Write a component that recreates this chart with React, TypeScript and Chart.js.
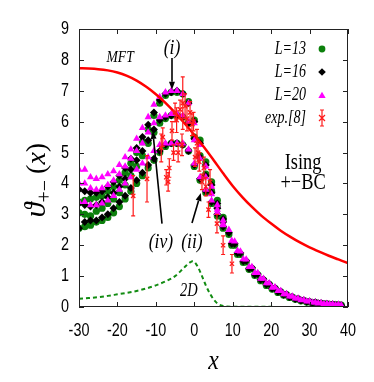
import React, { useEffect, useRef } from "react";
import { Chart, registerables } from "chart.js";

Chart.register(...registerables);

// ---------- data ----------
const X_TICKS = [-30, -20, -10, 0, 10, 20, 30, 40];
const Y_TICKS = [0, 1, 2, 3, 4, 5, 6, 7, 8, 9];

const X_BRANCH = [-30, -28.5, -27, -25.5, -24, -22.5, -21, -19.5, -18, -16.5, -15, -13.5, -12, -10.5, -9, -7.5, -6, -4.5, -3, -1.5, 0, 1.5, 3, 4.5, 6, 7.5];

const L16_A = [3.8, 3.75, 3.7, 3.7, 3.75, 3.9, 4.05, 4.25, 4.5, 4.8, 5.15, 5.5, 5.9, 6.3, 6.7, 6.9, 6.95, 7.0, 6.9, 6.6, 6.0, 5.3, 4.6, 3.95, 3.35, 2.85];
const L16_B = [3.35, 3.3, 3.25, 3.3, 3.4, 3.55, 3.7, 3.9, 4.15, 4.45, 4.75, 5.05, 5.4, 5.75, 6.05, 6.15, 6.2, 6.2, 6.15, 5.95, 5.45, 4.85, 4.25, 3.7, 3.2, 2.75];
const L16_C = [2.55, 2.75, 2.8, 2.8, 2.9, 3.0, 3.2, 3.4, 3.6, 3.85, 4.1, 4.35, 4.6, 4.8, 5.05, 5.25, 5.3, 5.3, 5.25, 5.05, 4.6, 4.15, 3.75, 3.4, 3.0, 2.6];

const L13_A = [3.4, 3.45, 3.5, 3.55, 3.6, 3.75, 3.9, 4.1, 4.35, 4.65, 5.0, 5.35, 5.75, 6.2, 6.6, 6.85, 6.95, 6.95, 6.9, 6.65, 6.05, 5.4, 4.7, 4.05, 3.45, 2.9];
const L13_B = [3.05, 3.0, 2.95, 3.1, 3.2, 3.35, 3.5, 3.7, 3.95, 4.25, 4.55, 4.9, 5.3, 5.65, 5.95, 6.1, 6.2, 6.2, 6.15, 5.95, 5.5, 4.9, 4.3, 3.75, 3.25, 2.8];
const L13_C = [2.55, 2.6, 2.65, 2.75, 2.8, 2.9, 3.05, 3.25, 3.5, 3.75, 4.0, 4.25, 4.5, 4.75, 5.0, 5.2, 5.3, 5.3, 5.25, 5.05, 4.55, 4.1, 3.7, 3.35, 2.95, 2.55];

const L20_A = [4.45, 4.45, 4.2, 4.15, 4.2, 4.3, 4.4, 4.6, 4.85, 5.1, 5.45, 5.8, 6.15, 6.55, 6.8, 6.95, 7.0, 7.0, 6.9, 6.6, 5.95, 5.25, 4.55, 3.9, 3.3, 2.8];
const L20_B = [4.0, 4.0, 3.85, 3.8, 3.85, 3.95, 4.1, 4.3, 4.55, 4.8, 5.05, 5.3, 5.65, 5.95, 6.15, 6.2, 6.25, 6.25, 6.2, 6.0, 5.4, 4.8, 4.2, 3.65, 3.15, 2.7];
const L20_C = [3.4, 3.4, 3.3, 3.3, 3.35, 3.45, 3.6, 3.8, 4.0, 4.2, 4.45, 4.65, 4.85, 5.05, 5.25, 5.3, 5.3, 5.3, 5.3, 5.1, 4.65, 4.2, 3.8, 3.45, 3.05, 2.65];

const X_TAIL_A = [9, 10.5, 12, 13.5, 15, 16.5, 18, 19.5, 21, 22.5, 24, 25.5, 27, 28.5, 30, 31.5, 33, 34.5, 36, 37.5];
const X_TAIL_B = [9.75, 11.25, 12.75, 14.25, 15.75, 17.25, 18.75, 20.25, 21.75, 23.25, 24.75, 26.25, 27.75, 29.25, 30.75, 32.25, 33.75, 35.25, 36.75, 38.25];

const L16_TAIL_A = [2.4, 2.05, 1.75, 1.5, 1.27, 1.07, 0.9, 0.75, 0.62, 0.5, 0.41, 0.33, 0.27, 0.22, 0.18, 0.15, 0.12, 0.1, 0.09, 0.07];
const L16_TAIL_B = [2.05, 1.75, 1.48, 1.25, 1.05, 0.88, 0.73, 0.6, 0.49, 0.4, 0.32, 0.26, 0.21, 0.17, 0.14, 0.12, 0.1, 0.08, 0.07, 0.06];
const L20_TAIL_A = [2.5, 2.12, 1.8, 1.54, 1.3, 1.1, 0.92, 0.77, 0.64, 0.52, 0.42, 0.34, 0.28, 0.23, 0.19, 0.15, 0.13, 0.11, 0.09, 0.08];
const L20_TAIL_B = [2.15, 1.82, 1.55, 1.3, 1.1, 0.92, 0.77, 0.63, 0.52, 0.42, 0.34, 0.28, 0.22, 0.18, 0.15, 0.12, 0.1, 0.09, 0.07, 0.06];
const L13_TAIL_A = [2.35, 2.0, 1.7, 1.46, 1.24, 1.04, 0.87, 0.73, 0.6, 0.49, 0.4, 0.32, 0.26, 0.21, 0.17, 0.14, 0.12, 0.1, 0.08, 0.07];
const L13_TAIL_B = [2.0, 1.7, 1.44, 1.22, 1.02, 0.85, 0.7, 0.58, 0.47, 0.38, 0.31, 0.25, 0.2, 0.16, 0.13, 0.11, 0.09, 0.08, 0.07, 0.06];

const EXP_X = [-15.9, -12.3, -8.6, -8.2, -7.3, -6.8, -6.5, -5.8, -5.4, -5.0, -4.6, -4.2, -3.7, -3.0, -3.2, -2.4, -1.9, -1.1, -0.6, -0.2, 0.2, 0.7, 1.0, 1.3, 2.0, 2.5, 3.0, 3.7, 4.1, 5.9, 7.5, 9.8];
const EXP_Y = [3.6, 4.15, 5.15, 5.5, 4.2, 4.05, 4.5, 5.7, 5.0, 6.3, 6.05, 5.0, 6.4, 6.6, 5.25, 6.5, 6.1, 6.3, 5.9, 6.0, 4.85, 5.3, 5.0, 4.7, 4.05, 4.5, 3.9, 3.15, 4.05, 2.7, 2.0, 1.4];
const EXP_ERR = [0.65, 0.75, 0.45, 0.3, 0.25, 0.3, 0.3, 0.3, 0.25, 0.3, 0.4, 0.3, 0.3, 0.85, 0.35, 0.4, 0.4, 0.35, 0.35, 0.3, 0.3, 0.45, 0.3, 0.3, 0.25, 0.35, 0.3, 0.25, 0.4, 0.3, 0.3, 0.3];

const MFT_X = [-30, -27.5, -25, -22.5, -20, -17.5, -15, -12.5, -10, -7.5, -5, -2.5, 0, 2.5, 5, 7.5, 10, 12.5, 15, 17.5, 20, 22.5, 25, 27.5, 30, 32.5, 35, 37.5, 40];
const MFT_Y = [7.73, 7.72, 7.7, 7.66, 7.59, 7.48, 7.33, 7.13, 6.89, 6.61, 6.29, 5.94, 5.57, 5.18, 4.76, 4.33, 3.92, 3.56, 3.24, 2.95, 2.7, 2.47, 2.27, 2.09, 1.93, 1.79, 1.66, 1.54, 1.42];

const D2_X = [-30, -27.5, -25, -22.5, -20, -17.5, -15, -12.5, -10, -7.5, -5, -3.5, -2, -1, -0.5, 0, 1, 2, 3, 4, 5, 6, 7, 8, 10, 15, 21];
const D2_Y = [0.27, 0.29, 0.32, 0.36, 0.41, 0.46, 0.52, 0.6, 0.7, 0.83, 1.0, 1.17, 1.35, 1.45, 1.48, 1.46, 1.28, 1.0, 0.7, 0.45, 0.25, 0.12, 0.05, 0.02, 0.01, 0.005, 0.005];

const SERIES_LABELS = ["L=13", "L=16", "L=20", "exp.[8]"];

// ---------- styling / layout (not data) ----------
const SX = 0.8;
const SERIF = "'Liberation Serif', 'Times New Roman', 'DejaVu Serif', serif";
const SANS = "'Liberation Sans', Arial, sans-serif";
const GREEN = "#0c800c";
const MAGENTA = "#ff00ff";
const RED = "#ff1a1a";

const ANNOTATIONS = [
  { text: "MFT", x: -19.3, y: 8.09, font: `italic 17px ${SERIF}` },
  { text: "(i)", x: -5.8, y: 8.38, font: `italic 22px ${SERIF}` },
  { text: "(iv)", x: -8.7, y: 2.1, font: `italic 22px ${SERIF}` },
  { text: "(ii)", x: -0.6, y: 2.1, font: `italic 22px ${SERIF}` },
  { text: "2D", x: -1.4, y: 0.52, font: `italic 18px ${SERIF}` },
  { text: "Ising", x: 28.3, y: 4.66, font: `23px ${SERIF}` },
  { text: "+\u2212BC", x: 28.3, y: 4.01, font: `23px ${SERIF}` },
];

const ARROWS = [
  { from: [-5.8, 8.06], to: [-5.8, 7.03] },
  { from: [-8.4, 2.7], to: [-10.8, 5.7] },
  { from: [-0.6, 2.72], to: [1.7, 3.69] },
];

function zip(xs: number[], ys: number[]) {
  return xs.map((x, i) => ({ x, y: ys[i] }));
}

function drawText(
  ctx: CanvasRenderingContext2D,
  text: string,
  x: number,
  y: number,
  font: string,
  align: "left" | "center" | "right",
  sx = SX,
  baseline: CanvasTextBaseline = "middle"
) {
  ctx.save();
  ctx.font = font;
  ctx.textBaseline = baseline;
  ctx.textAlign = "left";
  const w = ctx.measureText(text).width * sx;
  const x0 = align === "left" ? x : align === "center" ? x - w / 2 : x - w;
  ctx.translate(x0, y);
  ctx.scale(sx, 1);
  ctx.fillStyle = "#000";
  ctx.fillText(text, 0, 0);
  ctx.restore();
}

function marker(ctx: CanvasRenderingContext2D, kind: string, x: number, y: number, r: number, color: string) {
  ctx.save();
  ctx.fillStyle = color;
  ctx.beginPath();
  if (kind === "circle") {
    ctx.arc(x, y, r, 0, Math.PI * 2);
  } else if (kind === "rectRot") {
    ctx.moveTo(x, y - r);
    ctx.lineTo(x + r, y);
    ctx.lineTo(x, y + r);
    ctx.lineTo(x - r, y);
    ctx.closePath();
  } else if (kind === "triangle") {
    ctx.moveTo(x, y - r);
    ctx.lineTo(x + r * 0.87, y + r * 0.5);
    ctx.lineTo(x - r * 0.87, y + r * 0.5);
    ctx.closePath();
  }
  ctx.fill();
  ctx.restore();
}

const framePlugin = {
  id: "framePlugin",
  afterDraw(chart: any) {
    const ctx: CanvasRenderingContext2D = chart.ctx;
    const { left, right, top, bottom } = chart.chartArea;
    const xs = chart.scales.x;
    const ys = chart.scales.y;
    ctx.save();

    // error bars for experimental data
    ctx.strokeStyle = RED;
    ctx.lineWidth = 1.2;
    EXP_X.forEach((xv, i) => {
      const px = xs.getPixelForValue(xv);
      const p1 = ys.getPixelForValue(EXP_Y[i] + EXP_ERR[i]);
      const p2 = ys.getPixelForValue(EXP_Y[i] - EXP_ERR[i]);
      ctx.beginPath();
      ctx.moveTo(px, p1);
      ctx.lineTo(px, p2);
      ctx.moveTo(px - 2, p1);
      ctx.lineTo(px + 2, p1);
      ctx.moveTo(px - 2, p2);
      ctx.lineTo(px + 2, p2);
      ctx.stroke();
    });

    // frame + inward ticks
    ctx.strokeStyle = "#222";
    ctx.lineWidth = 1;
    ctx.strokeRect(left + 0.5, top + 0.5, right - left - 1, bottom - top - 1);
    ctx.beginPath();
    X_TICKS.forEach((v) => {
      const px = Math.round(xs.getPixelForValue(v)) + 0.5;
      ctx.moveTo(px, bottom);
      ctx.lineTo(px, bottom - 5);
      ctx.moveTo(px, top);
      ctx.lineTo(px, top + 5);
    });
    Y_TICKS.forEach((v) => {
      const py = Math.round(ys.getPixelForValue(v)) + 0.5;
      ctx.moveTo(left, py);
      ctx.lineTo(left + 5, py);
      ctx.moveTo(right, py);
      ctx.lineTo(right - 5, py);
    });
    ctx.stroke();

    // tick labels
    X_TICKS.forEach((v) => {
      drawText(ctx, String(v), xs.getPixelForValue(v), bottom + 24, `18px ${SANS}`, "center", 0.8);
    });
    Y_TICKS.forEach((v) => {
      drawText(ctx, String(v), left - 10, ys.getPixelForValue(v), `18px ${SANS}`, "right", 0.8);
    });

    // axis titles
    drawText(ctx, "x", (left + right) / 2, bottom + 55, `italic 28px ${SERIF}`, "center", 0.85);
    ctx.save();
    ctx.translate(45, (top + bottom) / 2 + 12);
    ctx.rotate(-Math.PI / 2);
    ctx.fillStyle = "#000";
    ctx.textBaseline = "alphabetic";
    const f1 = `italic 30px ${SERIF}`;
    const f2 = `20px ${SERIF}`;
    const f3 = `28px ${SERIF}`;
    const f4 = `italic 28px ${SERIF}`;
    ctx.font = f1;
    const w1 = ctx.measureText("\u03D1").width;
    ctx.font = f2;
    const w2 = ctx.measureText("+\u2212").width;
    ctx.font = f3;
    const wp = ctx.measureText("(").width;
    ctx.font = f4;
    const wx = ctx.measureText("x").width;
    const total = w1 + w2 + 6 + wp * 2 + wx;
    let cx = -total / 2;
    ctx.font = f1;
    ctx.fillText("\u03D1", cx, 0);
    cx += w1;
    ctx.font = f2;
    ctx.fillText("+\u2212", cx, 6);
    cx += w2 + 6;
    ctx.font = f3;
    ctx.fillText("(", cx, 0);
    cx += wp;
    ctx.font = f4;
    ctx.fillText("x", cx, 0);
    cx += wx;
    ctx.font = f3;
    ctx.fillText(")", cx, 0);
    ctx.restore();

    // annotations
    ANNOTATIONS.forEach((a) => {
      drawText(ctx, a.text, xs.getPixelForValue(a.x), ys.getPixelForValue(a.y), a.font, "center");
    });

    // arrows
    ctx.strokeStyle = "#000";
    ctx.fillStyle = "#000";
    ctx.lineWidth = 1.6;
    ARROWS.forEach((a) => {
      const x1 = xs.getPixelForValue(a.from[0]);
      const y1 = ys.getPixelForValue(a.from[1]);
      const x2 = xs.getPixelForValue(a.to[0]);
      const y2 = ys.getPixelForValue(a.to[1]);
      const ang = Math.atan2(y2 - y1, x2 - x1);
      const hl = 8;
      const hw = 3;
      const bx = x2 - hl * Math.cos(ang);
      const by = y2 - hl * Math.sin(ang);
      ctx.beginPath();
      ctx.moveTo(x1, y1);
      ctx.lineTo(bx, by);
      ctx.stroke();
      ctx.beginPath();
      ctx.moveTo(x2, y2);
      ctx.lineTo(bx + hw * Math.sin(ang), by - hw * Math.cos(ang));
      ctx.lineTo(bx - hw * Math.sin(ang), by + hw * Math.cos(ang));
      ctx.closePath();
      ctx.fill();
    });

    // legend
    const lx = right - 42;
    const mx = right - 26;
    const rows = [top + 20, top + 43, top + 66, top + 89];
    const lf = `italic 18px ${SERIF}`;
    SERIES_LABELS.forEach((t, i) => drawText(ctx, t, lx, rows[i], lf, "right", 0.78));
    marker(ctx, "circle", mx, rows[0], 3.4, GREEN);
    marker(ctx, "rectRot", mx, rows[1], 3.8, "#000");
    marker(ctx, "triangle", mx, rows[2] + 1, 4.2, MAGENTA);
    ctx.strokeStyle = RED;
    ctx.lineWidth = 1.2;
    ctx.beginPath();
    ctx.moveTo(mx, rows[3] - 8);
    ctx.lineTo(mx, rows[3] + 8);
    ctx.moveTo(mx - 2, rows[3] - 8);
    ctx.lineTo(mx + 2, rows[3] - 8);
    ctx.moveTo(mx - 2, rows[3] + 8);
    ctx.lineTo(mx + 2, rows[3] + 8);
    ctx.moveTo(mx - 3, rows[3] - 3);
    ctx.lineTo(mx + 3, rows[3] + 3);
    ctx.moveTo(mx + 3, rows[3] - 3);
    ctx.lineTo(mx - 3, rows[3] + 3);
    ctx.stroke();

    ctx.restore();
  },
};

export default function App() {
  const ref = useRef<HTMLCanvasElement | null>(null);

  useEffect(() => {
    if (!ref.current) return;
    const l13 = [
      ...zip(X_BRANCH, L13_A),
      ...zip(X_BRANCH, L13_B),
      ...zip(X_BRANCH, L13_C),
      ...zip(X_TAIL_A, L13_TAIL_A),
      ...zip(X_TAIL_B, L13_TAIL_B),
    ];
    const l16 = [
      ...zip(X_BRANCH, L16_A),
      ...zip(X_BRANCH, L16_B),
      ...zip(X_BRANCH, L16_C),
      ...zip(X_TAIL_A, L16_TAIL_A),
      ...zip(X_TAIL_B, L16_TAIL_B),
    ];
    const l20 = [
      ...zip(X_BRANCH, L20_A),
      ...zip(X_BRANCH, L20_B),
      ...zip(X_BRANCH, L20_C),
      ...zip(X_TAIL_A, L20_TAIL_A),
      ...zip(X_TAIL_B, L20_TAIL_B),
    ];
    const chart = new Chart(ref.current, {
      type: "scatter",
      data: {
        datasets: [
          {
            label: SERIES_LABELS[0],
            data: l13,
            pointStyle: "circle",
            pointRadius: 3.6,
            backgroundColor: GREEN,
            borderColor: GREEN,
            borderWidth: 0,
            order: 6,
          },
          {
            label: SERIES_LABELS[1],
            data: l16,
            pointStyle: "rectRot",
            pointRadius: 4,
            backgroundColor: "#000",
            borderColor: "#000",
            borderWidth: 0,
            order: 5,
          },
          {
            label: SERIES_LABELS[2],
            data: l20,
            pointStyle: "triangle",
            pointRadius: 4.2,
            backgroundColor: MAGENTA,
            borderColor: MAGENTA,
            borderWidth: 0,
            order: 4,
          },
          {
            label: "MFT",
            data: zip(MFT_X, MFT_Y),
            showLine: true,
            borderColor: "#ff0000",
            borderWidth: 2.5,
            pointRadius: 0,
            cubicInterpolationMode: "monotone",
            order: 2,
          },
          {
            label: "2D",
            data: zip(D2_X, D2_Y),
            showLine: true,
            borderColor: "#128c12",
            borderWidth: 2,
            borderDash: [4, 3],
            pointRadius: 0,
            cubicInterpolationMode: "monotone",
            order: 3,
          },
          {
            label: SERIES_LABELS[3],
            data: zip(EXP_X, EXP_Y),
            pointStyle: "crossRot",
            pointRadius: 3,
            borderColor: RED,
            backgroundColor: RED,
            borderWidth: 1.3,
            order: 1,
          },
        ],
      },
      options: {
        animation: false,
        responsive: false,
        devicePixelRatio: 1,
        layout: { padding: { top: 29, right: 26, left: 0, bottom: 0 } },
        plugins: { legend: { display: false }, tooltip: { enabled: false } },
        scales: {
          x: {
            type: "linear",
            min: -30,
            max: 40,
            ticks: { display: false, stepSize: 10 },
            grid: { display: false, drawTicks: false },
            border: { display: false },
            afterFit: (s: any) => {
              s.height = 75;
            },
          },
          y: {
            type: "linear",
            min: 0,
            max: 9,
            ticks: { display: false, stepSize: 1 },
            grid: { display: false, drawTicks: false },
            border: { display: false },
            afterFit: (s: any) => {
              s.width = 79;
            },
          },
        },
      },
      plugins: [framePlugin],
    } as any);
    return () => chart.destroy();
  }, []);

  return (
    <div style={{ position: "fixed", left: 0, top: 0, width: 374, height: 382, background: "#fff" }}>
      <canvas ref={ref} width={374} height={382} style={{ display: "block" }} />
    </div>
  );
}
